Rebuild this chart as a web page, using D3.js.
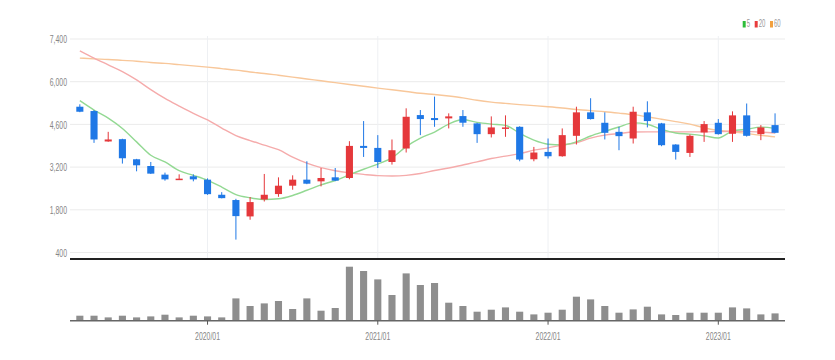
<!DOCTYPE html>
<html>
<head>
<meta charset="utf-8">
<script src="https://cdn.jsdelivr.net/npm/d3@7/dist/d3.min.js"></script>
<style>
  html, body { margin: 0; padding: 0; background: #ffffff; }
  svg { display: block; }
  text { font-family: "Liberation Sans", Arial, sans-serif; }
</style>
</head>
<body>
<svg id="chart" width="835" height="360"></svg>
<script>
// ---------- data ----------
const months = ["2019/04","2019/05","2019/06","2019/07","2019/08","2019/09","2019/10","2019/11","2019/12",
  "2020/01","2020/02","2020/03","2020/04","2020/05","2020/06","2020/07","2020/08","2020/09","2020/10","2020/11","2020/12",
  "2021/01","2021/02","2021/03","2021/04","2021/05","2021/06","2021/07","2021/08","2021/09","2021/10","2021/11","2021/12",
  "2022/01","2022/02","2022/03","2022/04","2022/05","2022/06","2022/07","2022/08","2022/09","2022/10","2022/11","2022/12",
  "2023/01","2023/02","2023/03","2023/04","2023/05"];
const openValues  = [5180,5038,4040,4116,3457,3236,2953,2788,2898,2788,2293,2120,1583,2138,2316,2590,2788,2733,2865,2843,3895,3829,3368,3810,4906,4808,4797,4873,4633,4280,4468,4521,3457,3698,3556,4226,4995,4653,4356,4138,4995,4633,3940,3665,4336,4653,4292,4896,4280,4577];
const closeValues = [5015,4106,4106,3490,3259,2986,2798,2821,2798,2313,2182,1593,2053,2293,2590,2788,2656,2843,2755,3895,3829,3368,3753,4850,4775,4742,4863,4655,4280,4501,4501,3447,3678,3556,4248,4995,4775,4324,4215,5015,4709,3918,3698,4226,4610,4280,4896,4226,4501,4324];
const highValues  = [5259,5070,4356,4130,3470,3368,3019,2963,2963,2830,2379,2160,2218,2975,2864,2930,3391,3170,3170,4050,4709,4248,4106,5127,5071,5511,4962,5071,4650,4863,4896,4540,3862,4138,4468,5180,5458,4995,4521,5180,5357,4650,3950,4270,4709,4775,5028,5285,4577,4962];
const lowValues   = [5000,3994,4030,3315,3062,2975,2755,2780,2733,2290,2175, 823,1474,2072,2227,2458,2640,2568,2740,2800,3533,3170,3282,3678,4248,4521,4468,4521,3994,4171,4193,3391,3391,3480,3540,3940,4760,4106,3753,3973,4501,3885,3447,3533,4027,4265,4027,4200,4083,4310];
const volumeValues = [500,500,330,500,330,430,600,330,500,430,330,2230,1470,1730,1970,1170,2230,1000,1270,5400,4970,4130,2570,4730,3570,3770,1800,1470,900,1100,1330,900,630,800,1100,2400,2130,1470,800,1130,1400,630,570,800,800,800,1330,1230,630,730];
const ma5Values  = [5377,5071,4808,4468,4027,3589,3368,3083,2930,2766,2546,2300,2195,2138,2160,2270,2440,2620,2760,2950,3130,3300,3500,3870,4150,4350,4610,4760,4665,4610,4570,4310,4083,3950,3930,4030,4220,4370,4515,4650,4605,4435,4320,4280,4225,4155,4380,4440,4510,4470];
const ma20Values = [7014,6774,6553,6333,6059,5740,5450,5200,4960,4745,4480,4230,4070,3920,3770,3530,3330,3183,3080,3010,2960,2920,2910,2930,2990,3090,3170,3270,3370,3480,3560,3640,3755,3830,3920,4000,4150,4250,4300,4350,4356,4356,4356,4356,4356,4365,4375,4370,4345,4320];
const ma60Values = [6774,6750,6730,6700,6670,6630,6600,6560,6520,6478,6430,6380,6320,6270,6210,6150,6090,6030,5970,5910,5850,5790,5735,5680,5620,5580,5530,5470,5390,5330,5290,5250,5215,5180,5140,5090,5050,5015,4970,4920,4850,4770,4690,4610,4490,4400,4360,4300,4240,4190];
const priceTicks = [400,1800,3200,4600,6000,7400];
const xTickLabels = ["2020/01","2021/01","2022/01","2023/01"];
const legendLabels = ["5","20","60"];

// ---------- styles ----------
const upColor = "#e5383b", downColor = "#1f78e6";
const maColors = ["#93d993", "#f5abab", "#f8c79a"];
const legendColors = ["#2ebd3a", "#e83c3c", "#f2a03d"];

const svg = d3.select("#chart");
const left = 69.2, right = 785.7;
const x = d3.scaleBand().domain(months).range([left, right]).padding(0.5);
const cx = m => x(m) + x.bandwidth() / 2;
const y = d3.scaleLinear().domain([400, 7400]).range([252.5, 39]);
const yv = d3.scaleLinear().domain([0, 5400]).range([320.7, 266.7]);

function squishText(g, tx, ty, str, anchor, size, color) {
  g.append("g").attr("transform", `translate(${tx},${ty}) scale(0.6,1)`)
    .append("text").attr("text-anchor", anchor).attr("dominant-baseline", "central")
    .attr("font-size", size).attr("fill", color).text(str);
}

// gridlines
const grid = svg.append("g");
grid.selectAll("line.h").data(priceTicks).join("line")
  .attr("x1", 70).attr("x2", 785).attr("y1", d => y(d)).attr("y2", d => y(d))
  .attr("stroke", "#ebebeb").attr("stroke-width", 1);
grid.selectAll("line.v").data(xTickLabels).join("line")
  .attr("x1", d => cx(d)).attr("x2", d => cx(d)).attr("y1", 36).attr("y2", 258)
  .attr("stroke", "#eef0f3").attr("stroke-width", 1);

// y-axis labels
const yl = svg.append("g");
priceTicks.forEach(t => squishText(yl, 67, y(t), d3.format(",")(t), "end", 11.5, "#858585"));

// MA lines
const lineGen = d3.line().x((d, i) => cx(months[i])).y(d => y(d)).curve(d3.curveMonotoneX);
[ma60Values, ma20Values, ma5Values].forEach((arr, k) => {
  svg.append("path").attr("d", lineGen(arr)).attr("fill", "none")
    .attr("stroke", [maColors[2], maColors[1], maColors[0]][k]).attr("stroke-width", 1.4);
});

// candles
const candles = svg.append("g").selectAll("g").data(months).join("g");
candles.append("line")
  .attr("x1", (m) => cx(m)).attr("x2", (m) => cx(m))
  .attr("y1", (m, i) => y(highValues[i])).attr("y2", (m, i) => y(lowValues[i]))
  .attr("stroke", (m, i) => closeValues[i] >= openValues[i] ? upColor : downColor).attr("stroke-width", 1);
candles.append("rect")
  .attr("x", m => x(m)).attr("width", x.bandwidth())
  .attr("y", (m, i) => y(Math.max(openValues[i], closeValues[i])))
  .attr("height", (m, i) => Math.max(1.5, Math.abs(y(openValues[i]) - y(closeValues[i]))))
  .attr("fill", (m, i) => closeValues[i] >= openValues[i] ? upColor : downColor);

// separator line
svg.append("line").attr("x1", 70).attr("x2", 785).attr("y1", 259).attr("y2", 259)
  .attr("stroke", "#222").attr("stroke-width", 2);

// volume bars
svg.append("g").selectAll("rect").data(volumeValues).join("rect")
  .attr("x", (d, i) => x(months[i])).attr("width", x.bandwidth())
  .attr("y", d => yv(d)).attr("height", d => yv(0) - yv(d))
  .attr("fill", "#8e8e8e");
svg.append("line").attr("x1", 70).attr("x2", 785).attr("y1", yv(0)).attr("y2", yv(0))
  .attr("stroke", "#666").attr("stroke-width", 1.5);
const xt = svg.append("g");
xTickLabels.forEach(t => {
  xt.append("line").attr("x1", cx(t)).attr("x2", cx(t)).attr("y1", yv(0)).attr("y2", yv(0) + 4)
    .attr("stroke", "#555").attr("stroke-width", 1);
  squishText(xt, cx(t), 336, t, "middle", 11.5, "#858585");
});

// legend
const lg = svg.append("g");
const legX = [742.7, 754.7, 770];
legendLabels.forEach((l, k) => {
  lg.append("rect").attr("x", legX[k]).attr("y", 21).attr("width", 3).attr("height", 6.5).attr("fill", legendColors[k]);
  squishText(lg, legX[k] + 4, 24.3, l, "start", 10, "#999");
});
</script>
</body>
</html>
